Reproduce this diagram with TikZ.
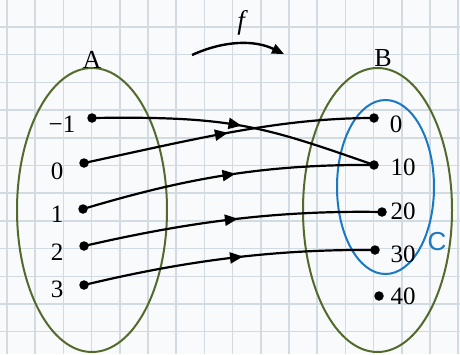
\documentclass[tikz,border=0pt]{standalone}
\usepackage{fontspec}
\setmainfont{Liberation Serif}
\newfontfamily\csans{Liberation Sans}
\usetikzlibrary{arrows.meta,decorations.markings,shapes.geometric}
\definecolor{olivec}{RGB}{84,106,44}
\definecolor{bluec}{RGB}{26,120,196}
\definecolor{gridc}{RGB}{210,218,226}
\definecolor{paper}{RGB}{248,250,251}
\tikzset{
  dot/.style={circle,fill=black,inner sep=0pt,minimum size=9.5pt},
  lbl/.style={inner sep=0pt,font=\fontsize{25}{25}\selectfont},
  setell/.style={ellipse,draw=olivec,line width=2pt,inner sep=0pt},
  maparrow/.style={line width=2.2pt,postaction={decorate},
    decoration={markings,mark=at position #1 with {\arrow{Triangle[length=13pt,width=11pt]}}}},
}
\begin{document}
\begin{tikzpicture}[x=1pt,y=-1pt]
\fill[paper] (0,0) rectangle (460,354);
\useasboundingbox (0,0) rectangle (460,354);
\foreach \k in {0,...,16} \draw[gridc,line width=1.5pt] ({7+28.2*\k},0) -- ({7+28.2*\k},354);
\foreach \k in {0,...,11} \draw[gridc,line width=1.5pt] (0,{27+27.7*\k}) -- (460,{27+27.7*\k});
% sets
\node[setell,minimum width=150pt,minimum height=284pt] (setA) at (92,210) {};
\node[setell,minimum width=149pt,minimum height=284pt] (setB) at (377.5,210) {};
\node[ellipse,draw=bluec,line width=2pt,inner sep=0pt,minimum width=97pt,minimum height=174pt] (setC) at (385.5,187) {};
\node[lbl,font=\fontsize{26}{26}\selectfont] (lA) at (92,60) {A};
\node[lbl,font=\fontsize{26}{26}\selectfont] (lB) at (383,58) {B};
\node[lbl,font=\fontsize{26}{26}\csans,text=bluec] (lC) at (437,242) {C};
% elements of A
\node[dot] (am1) at (92,118) {};
\node[dot] (a0) at (84,163) {};
\node[dot] (a1) at (83,209) {};
\node[dot] (a2) at (84,246) {};
\node[dot] (a3) at (84,285) {};
\node[lbl] (lam1) at (62,124) {−1};
\node[lbl] (la0) at (57,171) {0};
\node[lbl] (la1) at (57,214) {1};
\node[lbl] (la2) at (57,252) {2};
\node[lbl] (la3) at (57,289) {3};
% elements of B
\node[dot] (b0) at (374,118) {};
\node[dot] (b10) at (374,165) {};
\node[dot] (b20) at (382,212) {};
\node[dot] (b30) at (375,250) {};
\node[dot] (b40) at (379,296) {};
\node[lbl] (lb0) at (396,124) {0};
\node[lbl] (lb10) at (403,167) {10};
\node[lbl] (lb20) at (403,211) {20};
\node[lbl] (lb30) at (403,254) {30};
\node[lbl] (lb40) at (403,296) {40};
% mapping
\draw[maparrow=0.52] (am1.center) .. controls (230,116) and (260,125) .. (b10.center);
\draw[maparrow=0.50] (a0.center) .. controls (200,138) and (280,118) .. (b0.center);
\draw[maparrow=0.53] (a1.center) .. controls (180,180) and (260,164) .. (b10.center);
\draw[maparrow=0.52] (a2.center) .. controls (180,224) and (270,210) .. (b20.center);
\draw[maparrow=0.55] (a3.center) .. controls (180,262) and (270,249) .. (b30.center);
% f
\coordinate (fs) at (192,55);
\coordinate (fe) at (284,54);
\draw[line width=2.4pt,-{Triangle[length=12pt,width=10pt]}] (fs) .. controls (225,40) and (255,40) .. (fe);
\node[lbl,font=\fontsize{27}{27}\selectfont\itshape] (lf) at (241,23) {f};
\end{tikzpicture}
\end{document}
